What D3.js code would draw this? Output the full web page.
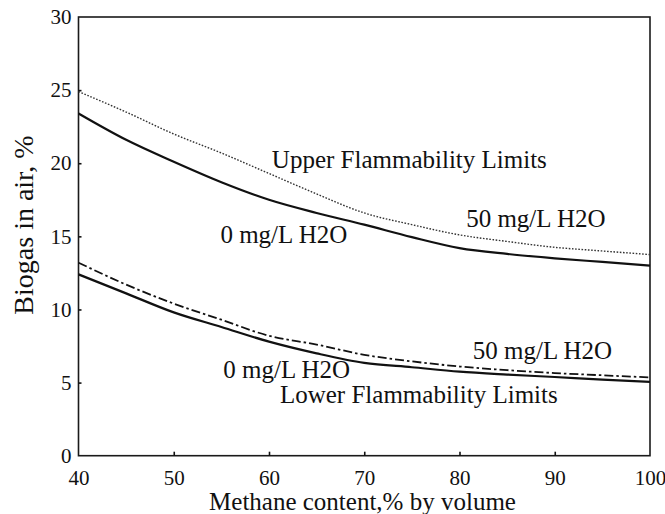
<!DOCTYPE html>
<html>
<head>
<meta charset="utf-8">
<script src="https://cdn.jsdelivr.net/npm/d3@7"></script>
<style>
  html, body { margin: 0; padding: 0; background: #fff; }
  svg { display: block; }
</style>
</head>
<body>
<svg id="chart" width="665" height="514"></svg>
<script>
// Methane content of the biogas, % by volume
const methane = [40, 45, 50, 55, 60, 65, 70, 75, 80, 85, 90, 95, 100];

// Upper flammability limits (biogas in air, %)
const uflDry = [23.4, 21.6, 20.1, 18.7, 17.5, 16.6, 15.8, 14.95, 14.2, 13.8, 13.5, 13.25, 13.0];
const uflWet = [24.9, 23.5, 22.0, 20.7, 19.3, 17.9, 16.6, 15.8, 15.1, 14.65, 14.25, 14.0, 13.75];

// Lower flammability limits (biogas in air, %)
const lflDry = [12.4, 11.1, 9.8, 8.8, 7.8, 7.0, 6.35, 6.05, 5.75, 5.55, 5.38, 5.2, 5.05];
const lflWet = [13.2, 11.7, 10.4, 9.3, 8.2, 7.6, 6.9, 6.45, 6.1, 5.85, 5.65, 5.5, 5.35];

// Axis ticks
const xTicks = [40, 50, 60, 70, 80, 90, 100];
const yTicks = [0, 5, 10, 15, 20, 25, 30];

// Pick the first installed serif face from a list of candidates
function pickFont(cands) {
  const ctx = document.createElement("canvas").getContext("2d");
  const probe = "mmmmmmmmmmlliWQ@#1234567890 Biogas";
  for (const name of cands) {
    let found = false;
    for (const base of ["monospace", "sans-serif"]) {
      ctx.font = `40px ${base}`;
      const w0 = ctx.measureText(probe).width;
      ctx.font = `40px "${name}", ${base}`;
      const w1 = ctx.measureText(probe).width;
      if (Math.abs(w1 - w0) > 0.5) { found = true; break; }
    }
    if (found) return `"${name}", serif`;
  }
  return "serif";
}
const serifFont = pickFont(["Liberation Serif", "Tinos", "Times New Roman", "Times",
  "Nimbus Roman", "Nimbus Roman No9 L", "DejaVu Serif", "Noto Serif", "FreeSerif"]);

const svg = d3.select("#chart");
const plotL = 78.5, plotR = 650, plotT = 17, plotB = 455.7;

const x = d3.scaleLinear().domain([40, 100]).range([plotL, plotR]);
const y = d3.scaleLinear().domain([0, 30]).range([plotB, plotT]);

// Frame
svg.append("rect")
  .attr("x", plotL).attr("y", plotT)
  .attr("width", plotR - plotL).attr("height", plotB - plotT)
  .attr("fill", "none").attr("stroke", "#1a1a1a").attr("stroke-width", 1.6);

// Axes with short inward ticks
const xAxis = svg.append("g").attr("transform", `translate(0,${plotB})`)
  .call(d3.axisBottom(x).tickValues(xTicks).tickSize(-4).tickPadding(9).tickFormat(d3.format("d")));
const yAxis = svg.append("g").attr("transform", `translate(${plotL},0)`)
  .call(d3.axisLeft(y).tickValues(yTicks).tickSize(-3).tickPadding(7).tickFormat(d3.format("d")));

[xAxis, yAxis].forEach(g => {
  g.select(".domain").remove();
  g.selectAll(".tick line").attr("stroke", "#111").attr("stroke-width", 1.6);
  g.selectAll(".tick text").style("font-size", "21px").attr("fill", "#111");
});
xAxis.selectAll(".tick text").attr("dy", "0.95em");
// The frame already draws the edge ticks
xAxis.selectAll(".tick").filter(d => d === 40 || d === 100).select("line").remove();
yAxis.selectAll(".tick").filter(d => d === 0 || d === 30).select("line").remove();

// Curves
const line = d3.line()
  .x((d, i) => x(methane[i]))
  .y(d => y(d))
  .curve(d3.curveMonotoneX);

svg.append("path").datum(uflDry).attr("d", line)
  .attr("fill", "none").attr("stroke", "#111").attr("stroke-width", 2.2);
svg.append("path").datum(uflWet).attr("d", line)
  .attr("fill", "none").attr("stroke", "#333").attr("stroke-width", 1.4)
  .attr("stroke-dasharray", "1.6,1.6");
svg.append("path").datum(lflDry).attr("d", line)
  .attr("fill", "none").attr("stroke", "#111").attr("stroke-width", 2.2);
svg.append("path").datum(lflWet).attr("d", line)
  .attr("fill", "none").attr("stroke", "#111").attr("stroke-width", 1.8)
  .attr("stroke-dasharray", "9,3,2.5,3");

// Annotations (positioned in data units)
const notes = [
  { t: "Upper Flammability Limits", m: 60.3, v: 19.67 },
  { t: "0 mg/L H2O", m: 54.9, v: 14.55 },
  { t: "50 mg/L H2O", m: 80.7, v: 15.64 },
  { t: "50 mg/L H2O", m: 81.4, v: 6.61 },
  { t: "0 mg/L H2O", m: 55.2, v: 5.31 },
  { t: "Lower Flammability Limits", m: 61.15, v: 3.6 }
];
svg.selectAll("text.note").data(notes).join("text")
  .attr("class", "note")
  .attr("x", d => x(d.m)).attr("y", d => y(d.v))
  .style("font-size", "25px")
  .text(d => d.t);

// Axis titles
svg.append("text")
  .attr("x", 362.5).attr("y", 510)
  .attr("text-anchor", "middle")
  .style("font-size", "25px")
  .text("Methane content,% by volume");

svg.append("text")
  .attr("transform", "translate(33,225) rotate(-90)")
  .attr("text-anchor", "middle")
  .style("font-size", "28px")
  .text("Biogas in air, %");

svg.selectAll("text").style("font-family", serifFont).style("fill", "#111");
</script>
</body>
</html>
